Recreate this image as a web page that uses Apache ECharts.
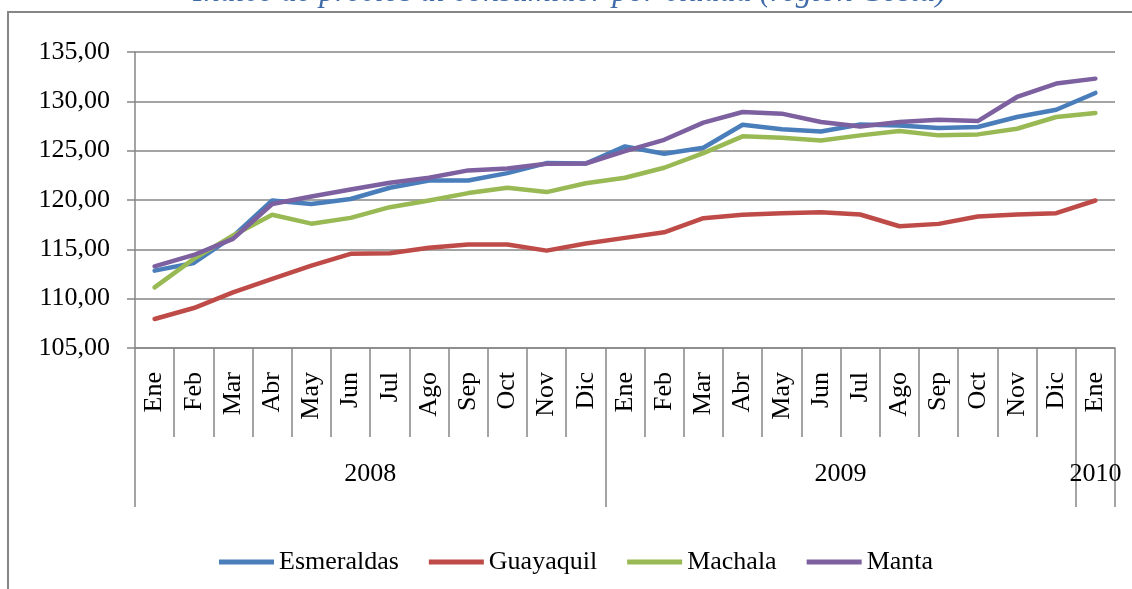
<!DOCTYPE html>
<html>
<head>
<meta charset="utf-8">
<title>Índice de precios al consumidor por ciudad</title>
<script src="https://cdn.jsdelivr.net/npm/echarts@6/dist/echarts.min.js"></script>
<style>
  html, body { margin: 0; padding: 0; background: #fff; }
  #chart { width: 1132px; height: 589px; }
</style>
</head>
<body>
<div id="chart"></div>
<script>
// meses (eje inferior) y años agrupados
var months = ['Ene','Feb','Mar','Abr','May','Jun','Jul','Ago','Sep','Oct','Nov','Dic',
              'Ene','Feb','Mar','Abr','May','Jun','Jul','Ago','Sep','Oct','Nov','Dic','Ene'];
var years = ['2008', '2009', '2010'];
var yearCounts = [12, 12, 1];

var esmeraldas = [112.84, 113.62, 116.30, 119.95, 119.60, 120.10, 121.24, 121.98, 121.98, 122.72, 123.74, 123.70,
                  125.43, 124.69, 125.30, 127.63, 127.16, 126.95, 127.66, 127.56, 127.29, 127.40, 128.41, 129.15, 130.85];
var guayaquil  = [107.94, 109.05, 110.64, 112.00, 113.35, 114.54, 114.60, 115.15, 115.48, 115.48, 114.87, 115.60,
                  116.16, 116.73, 118.16, 118.50, 118.66, 118.76, 118.53, 117.34, 117.58, 118.32, 118.53, 118.66, 119.95];
var machala    = [111.15, 114.03, 116.40, 118.50, 117.60, 118.19, 119.27, 119.95, 120.70, 121.24, 120.80, 121.70,
                  122.25, 123.27, 124.75, 126.45, 126.31, 126.04, 126.55, 126.99, 126.55, 126.65, 127.22, 128.41, 128.81];
var manta      = [113.28, 114.43, 116.06, 119.60, 120.36, 121.07, 121.74, 122.25, 123.00, 123.20, 123.67, 123.70,
                  124.96, 126.10, 127.84, 128.92, 128.75, 127.90, 127.46, 127.90, 128.14, 128.00, 130.44, 131.80, 132.30];

var gray = '#868686';
var font = 'Liberation Serif';

// límites y centros de cada año sobre el eje de meses
var yearTicks = [0], yearMids = [], yearByMid = {};
var acc = 0;
yearCounts.forEach(function (n, i) {
  yearMids.push(acc + n / 2);
  yearByMid[acc + n / 2] = years[i];
  acc += n;
  yearTicks.push(acc);
});

var chart = echarts.init(document.getElementById('chart'));

var option = {
  animation: false,
  backgroundColor: '#fff',
  color: ['#4A7EBB', '#BE4B48', '#98B954', '#7D60A0'],
  title: {
    text: 'Índice de precios al consumidor por ciudad (región Costa)',
    left: 193,
    top: -23,
    padding: 0,
    textStyle: {
      fontFamily: font,
      fontStyle: 'italic',
      fontWeight: 'normal',
      fontSize: 32,
      color: '#3F6BA9'
    }
  },
  graphic: [{
    type: 'rect',
    shape: { x: 8, y: 12, width: 1200, height: 700 },
    style: { fill: 'none', stroke: gray, lineWidth: 2 },
    silent: true
  }],
  legend: {
    left: 214,
    top: 544,
    itemGap: 30,
    itemWidth: 55,
    itemHeight: 5,
    icon: 'rect',
    textStyle: { fontFamily: font, fontSize: 26, color: '#000' },
    data: ['Esmeraldas', 'Guayaquil', 'Machala', 'Manta']
  },
  grid: {
    left: 135,
    right: 17,
    top: 52,
    bottom: 241,
    containLabel: false
  },
  xAxis: [{
    type: 'category',
    data: months,
    boundaryGap: true,
    axisLine: { show: true, lineStyle: { color: gray, width: 1.5 } },
    axisTick: { show: true, interval: 0, length: 89, lineStyle: { color: gray, width: 1.5 } },
    axisLabel: {
      interval: 0,
      rotate: 90,
      margin: 24,
      fontFamily: font,
      fontSize: 26,
      color: '#000'
    },
    splitLine: { show: false }
  }, {
    type: 'value',
    min: 0,
    max: acc,
    position: 'bottom',
    offset: 89,
    axisLine: { show: false },
    axisTick: { show: true, customValues: yearTicks, length: 70, lineStyle: { color: gray, width: 1.5 } },
    axisLabel: {
      customValues: yearMids,
      margin: 24,
      fontFamily: font,
      fontSize: 26,
      color: '#000',
      formatter: function (v) { return yearByMid[v] || ''; }
    },
    splitLine: { show: false }
  }],
  yAxis: {
    type: 'value',
    min: 105,
    max: 135,
    interval: 5,
    axisLine: { show: true, lineStyle: { color: gray, width: 1.5 } },
    axisTick: { show: true, length: 8, lineStyle: { color: gray, width: 1.5 } },
    axisLabel: {
      margin: 25,
      fontFamily: font,
      fontSize: 26,
      color: '#000',
      formatter: function (v) { return v.toFixed(2).replace('.', ','); }
    },
    splitLine: { lineStyle: { color: gray, width: 1.5 } }
  },
  series: [
    { name: 'Esmeraldas', data: esmeraldas },
    { name: 'Guayaquil', data: guayaquil },
    { name: 'Machala', data: machala },
    { name: 'Manta', data: manta }
  ].map(function (s) {
    return {
      name: s.name,
      type: 'line',
      xAxisIndex: 0,
      data: s.data,
      symbol: 'none',
      smooth: false,
      lineStyle: { width: 4.5, cap: 'round', join: 'round' }
    };
  })
};

chart.setOption(option);
</script>
</body>
</html>
